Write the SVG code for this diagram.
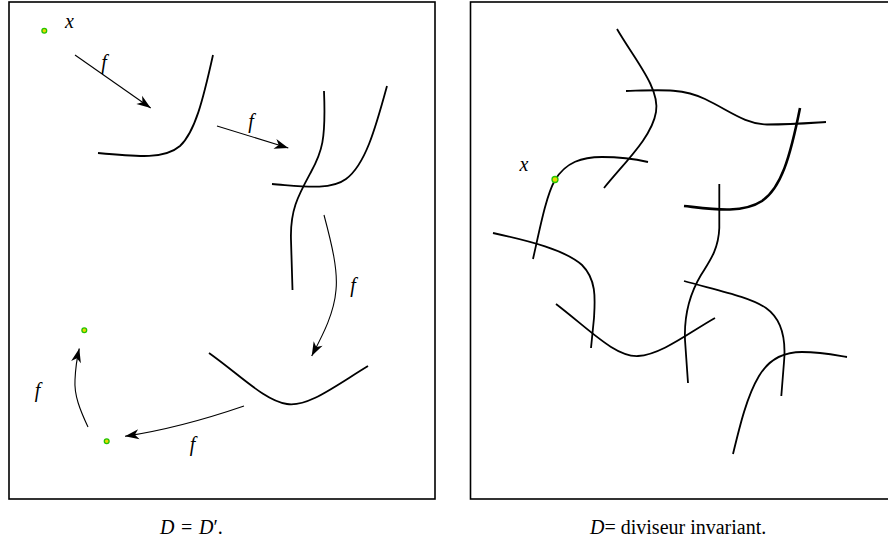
<svg xmlns="http://www.w3.org/2000/svg" width="888" height="544" viewBox="0 0 888 544">
<defs>
<marker id="ah" markerUnits="userSpaceOnUse" markerWidth="20" markerHeight="14" viewBox="-15 -7 17 14" refX="0" refY="0" orient="auto">
<path d="M0,0 L-14,-5 L-10,0 L-14,5 Z" fill="#000"/>
</marker>
</defs>
<rect width="888" height="544" fill="#fff"/>
<g id="frames" fill="none" stroke="#000" stroke-width="1.6">
<rect id="left-panel" x="9" y="2" width="426" height="497"/>
<rect id="right-panel" x="470.5" y="2" width="430" height="497"/>
</g>
<g id="left-nodes" fill="none" stroke="#000" stroke-width="1.8">
<path id="curve1" d="M98,153 C 140,157 165,159 180,146 C 195,132 203,100 213,55"/>
<path id="curve2a" d="M324,91 C 326,140 322,152 311,172 C 298,196 290,210 291,240 L 292.5,290"/>
<path id="curve2b" d="M272,184 C 300,186 330,191 346,179 C 365,165 375,130 387,86"/>
<path id="curve3" d="M209,353 C 240,375 265,401 287,404 C 308,407 332,388 368,366"/>
</g>
<g id="connectors" fill="none" stroke="#000" stroke-width="1.1" marker-end="url(#ah)">
<path d="M75,55 L150.7,108"/>
<path d="M217,126 L288.3,148"/>
<path d="M324,215 C 332,245 338,270 336,290 C 334,315 321,338 311.7,356"/>
<path d="M244,406 Q 180,428 125,436.3"/>
<path d="M88,427 C 80,410 74,395 75,380 C 75.5,368 77,358 79.3,348.5"/>
</g>
<g id="right-nodes" fill="none" stroke="#000" stroke-width="1.8">
<path id="cA" d="M617,29 C 635,60 660,88 656,112 C 652,137 625,162 604,188"/>
<path id="cB" d="M626,91 C 660,90 682,88 705,99 C 730,111 745,124 767,124.5 C 792,124.5 810,123 826,122"/>
<path id="cC" stroke-width="2.6" d="M684,206 C 712,209 742,214 762,201 C 781,188 790,158 800,108"/>
<path id="cD" d="M533,259 C 540,228 546,196 555,180 C 566,162 582,157 602,157 C 620,157 635,159 648,162"/>
<path id="cE" d="M719.3,184 L 719.3,228 C 718.5,250 709,262 701,275 C 689,295 684,315 685,340 L 688,383"/>
<path id="cF" d="M493,233 C 530,241 565,250 582,265 C 597,280 595,300 594,318 L 591,348"/>
<path id="cG" d="M556,304 C 590,330 615,357 638,356 C 661,355 690,332 715,318"/>
<path id="cH" d="M684,281 C 720,291 750,297 766,308 C 783,320 786,340 784,362 L 781.3,396"/>
<path id="cI" d="M733,454 C 740,425 747,396 759,376 C 769,359 784,352 802,352 C 821,352 835,355 847,357"/>
</g>
<g id="points" fill="#e8d800" stroke="#22c400" stroke-width="1.3">
<circle id="pt-x" cx="44.3" cy="30.7" r="2.4"/>
<circle id="pt-a" cx="84.3" cy="330.3" r="2.4"/>
<circle id="pt-b" cx="106.7" cy="441.3" r="2.4"/>
<circle id="pt-x2" cx="555" cy="179.5" r="3"/>
</g>
<g id="labels">
<text x="65" y="28" font-family="Liberation Serif" font-size="20" font-style="italic">x</text>
<text x="524" y="171" font-family="Liberation Serif" font-size="20" font-style="italic" text-anchor="middle">x</text>
<text x="104" y="69" font-family="Liberation Serif" font-size="20" font-style="italic" text-anchor="middle">f</text>
<text x="251" y="127.5" font-family="Liberation Serif" font-size="20" font-style="italic" text-anchor="middle">f</text>
<text x="353" y="292" font-family="Liberation Serif" font-size="20" font-style="italic" text-anchor="middle">f</text>
<text x="37.5" y="397" font-family="Liberation Serif" font-size="20" font-style="italic" text-anchor="middle">f</text>
<text x="192.5" y="451" font-family="Liberation Serif" font-size="20" font-style="italic" text-anchor="middle">f</text>
</g>
<g id="captions">
<text x="160" y="534" font-family="Liberation Serif" font-size="20"><tspan font-style="italic">D</tspan><tspan x="181">=</tspan><tspan x="199" font-style="italic">D</tspan><tspan>&#8242;.</tspan></text>
<text x="590" y="534" font-family="Liberation Serif" font-size="20"><tspan font-style="italic">D</tspan>= diviseur invariant.</text>
</g>
</svg>
